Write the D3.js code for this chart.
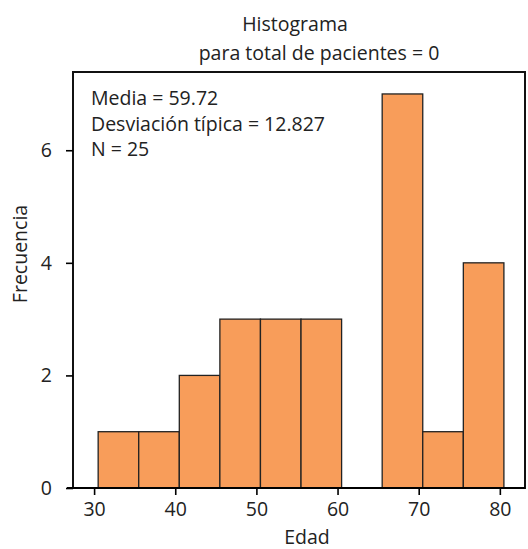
<!DOCTYPE html>
<html>
<head>
<meta charset="utf-8">
<script src="https://cdn.jsdelivr.net/npm/d3@7"></script>
<style>
  body { margin: 0; background: #fff; }
  text { font-family: "Open Sans", "Noto Sans", sans-serif; fill: #222; font-size: 19.5px; }
</style>
</head>
<body>
<svg id="chart" width="528" height="549"></svg>
<script>
// bins of width 5, starting a half unit after the tick
const binStarts = [30.5, 35.5, 40.5, 45.5, 50.5, 55.5, 60.5, 65.5, 70.5, 75.5];
const counts = [1, 1, 2, 3, 3, 3, 0, 7, 1, 4];
const binWidth = 5;
const xTicks = [30, 40, 50, 60, 70, 80];
const yTicks = [0, 2, 4, 6];
const stats = ['Media = 59.72', 'Desviación típica = 12.827', 'N = 25'];

const svg = d3.select('#chart');
const plotLeft = 73, plotRight = 525, plotTop = 72, plotBottom = 488;

const x = d3.scaleLinear().domain([27.4, 83.1]).range([plotLeft, plotRight]);
const y = d3.scaleLinear().domain([0, 7.39]).range([plotBottom, plotTop]);

const bins = binStarts.map((s, i) => ({x0: s, x1: s + binWidth, n: counts[i]}));

svg.append('g')
  .selectAll('rect')
  .data(bins.filter(d => d.n > 0))
  .join('rect')
  .attr('x', d => x(d.x0))
  .attr('width', d => x(d.x1) - x(d.x0))
  .attr('y', d => y(d.n))
  .attr('height', d => y(0) - y(d.n))
  .attr('fill', '#f89d5a')
  .attr('stroke', '#222')
  .attr('stroke-width', 1.3);

// frame
svg.append('rect')
  .attr('x', plotLeft).attr('y', plotTop)
  .attr('width', plotRight - plotLeft).attr('height', plotBottom - plotTop)
  .attr('fill', 'none').attr('stroke', '#111').attr('stroke-width', 2);

const xAxis = svg.append('g')
  .attr('transform', `translate(0,${plotBottom})`)
  .call(d3.axisBottom(x).tickValues(xTicks).tickSize(7).tickPadding(7));
xAxis.select('.domain').attr('d', `M${plotLeft - 6},0H${plotRight}`).attr('stroke-width', 2);
xAxis.selectAll('.tick line').attr('stroke-width', 1.6);

const yAxis = svg.append('g')
  .attr('transform', `translate(${plotLeft},0)`)
  .call(d3.axisLeft(y).tickValues(yTicks).tickSize(7).tickPadding(14));
yAxis.select('.domain').remove();
yAxis.selectAll('.tick line').attr('stroke-width', 1.6);

svg.selectAll('.tick text')
  .attr('fill', '#222')
  .style('font-family', '"Open Sans", sans-serif')
  .style('font-size', '19.5px');

svg.append('g')
  .selectAll('text')
  .data(stats)
  .join('text')
  .attr('x', 91)
  .attr('y', (d, i) => 105 + i * 25.5)
  .text(d => d);

const labels = [
  {t: 'Histograma', x: 295, y: 31},
  {t: 'para total de pacientes = 0', x: 319, y: 60},
  {t: 'Edad', x: 307, y: 544}
];
svg.append('g')
  .selectAll('text')
  .data(labels)
  .join('text')
  .attr('x', d => d.x).attr('y', d => d.y)
  .attr('text-anchor', 'middle')
  .text(d => d.t);

svg.append('text')
  .attr('transform', 'translate(27,254) rotate(-90)')
  .attr('text-anchor', 'middle')
  .text('Frecuencia');
</script>
</body>
</html>
